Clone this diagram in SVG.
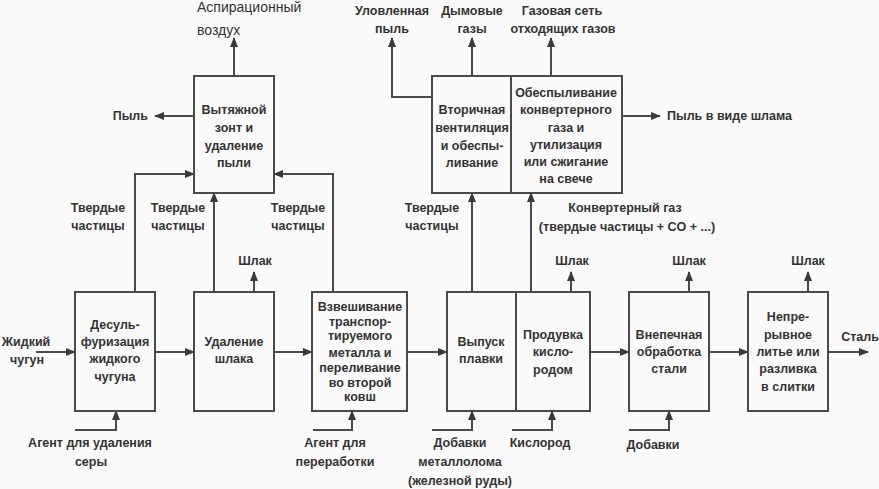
<svg xmlns="http://www.w3.org/2000/svg" width="879" height="489" viewBox="0 0 879 489">
<defs>
<marker id="ah" markerUnits="userSpaceOnUse" markerWidth="10" markerHeight="8" refX="9" refY="4" orient="auto">
<path d="M0,0 L10,4 L0,8 Z" fill="#3a3a3a"/>
</marker>
<style>
.bx{fill:#fafafa;stroke:#4a4a4a;stroke-width:2}
.t{font-family:"Liberation Sans",Arial,sans-serif;font-weight:bold;font-size:12.5px;fill:#333;text-anchor:middle}
.r{font-family:"Liberation Sans",Arial,sans-serif;font-size:14px;fill:#333}
.c{fill:none;stroke:#4a4a4a;stroke-width:2}
.a{marker-end:url(#ah)}
</style>
</defs>
<rect width="879" height="489" fill="#fafafa"/>

<g id="connectors">
<path class="c a" d="M36,352 H75"/>
<path class="c a" d="M155,352 H194"/>
<path class="c a" d="M274,352 H312"/>
<path class="c a" d="M407,352 H447"/>
<path class="c a" d="M590,352 H629"/>
<path class="c a" d="M709,352 H748"/>
<path class="c a" d="M828,352 H868"/>
<path class="c a" d="M75,430 H116 V411"/>
<path class="c a" d="M313,430 H352 V411"/>
<path class="c a" d="M432,430 H472 V411"/>
<path class="c a" d="M512,430 H552 V411"/>
<path class="c a" d="M629,430 H669 V411"/>
<path class="c a" d="M254,292 V272"/>
<path class="c a" d="M571,292 V272"/>
<path class="c a" d="M689,292 V272"/>
<path class="c a" d="M808,292 V272"/>
<path class="c a" d="M135,292 V174 H194"/>
<path class="c a" d="M214,292 V193"/>
<path class="c a" d="M333,292 V174 H274"/>
<path class="c a" d="M472,292 V193"/>
<path class="c a" d="M531,292 V193"/>
<path class="c a" d="M234,76 V38"/>
<path class="c a" d="M472,76 V38"/>
<path class="c a" d="M551,76 V38"/>
<path class="c a" d="M432,97 H392 V38"/>
<path class="c a" d="M194,116 H155"/>
<path class="c a" d="M622,116 H660"/>
</g>

<g id="labels">
<text class="r" x="197" y="12">Аспирационный</text>
<text class="r" x="197" y="35">воздух</text>
<text class="t" x="392" y="15">Уловленная</text>
<text class="t" x="392" y="33">пыль</text>
<text class="t" x="472" y="15">Дымовые</text>
<text class="t" x="472" y="33">газы</text>
<text class="t" x="562" y="15">Газовая сеть</text>
<text class="t" x="563" y="33">отходящих газов</text>
<text class="t" x="148" y="120" style="text-anchor:end">Пыль</text>
<text class="t" x="667" y="120" style="text-anchor:start">Пыль в виде шлама</text>
<text class="t" x="98" y="212">Твердые</text>
<text class="t" x="98" y="230">частицы</text>
<text class="t" x="178" y="212">Твердые</text>
<text class="t" x="178" y="230">частицы</text>
<text class="t" x="298" y="212">Твердые</text>
<text class="t" x="298" y="230">частицы</text>
<text class="t" x="432" y="212">Твердые</text>
<text class="t" x="432" y="230">частицы</text>
<text class="t" x="625" y="212">Конвертерный газ</text>
<text class="t" x="627" y="231">(твердые частицы + CO + ...)</text>
<text class="t" x="255" y="265">Шлак</text>
<text class="t" x="572" y="265">Шлак</text>
<text class="t" x="689" y="265">Шлак</text>
<text class="t" x="808" y="265">Шлак</text>
<text class="t" x="26" y="346">Жидкий</text>
<text class="t" x="27" y="364">чугун</text>
<text class="t" x="860" y="341">Сталь</text>
<text class="t" x="90" y="447">Агент для удаления</text>
<text class="t" x="91" y="466">серы</text>
<text class="t" x="335" y="447">Агент для</text>
<text class="t" x="335" y="466">переработки</text>
<text class="t" x="460" y="447">Добавки</text>
<text class="t" x="460" y="466">металлолома</text>
<text class="t" x="460" y="485">(железной руды)</text>
<text class="t" x="540" y="447">Кислород</text>
<text class="t" x="653" y="449">Добавки</text>
</g>

<g id="n-hood">
<rect class="bx" x="194" y="76" width="80" height="117"/>
<text class="t" x="234" y="114">Вытяжной</text>
<text class="t" x="234" y="132">зонт и</text>
<text class="t" x="234" y="150">удаление</text>
<text class="t" x="234" y="167">пыли</text>
</g>

<g id="n-secondary">
<rect class="bx" x="432" y="76" width="79" height="117"/>
<text class="t" x="472" y="114">Вторичная</text>
<text class="t" x="472" y="132">вентиляция</text>
<text class="t" x="472" y="150">и обеспы-</text>
<text class="t" x="472" y="167">ливание</text>
</g>

<g id="n-gascleaning">
<rect class="bx" x="511" y="76" width="111" height="117"/>
<text class="t" x="566" y="97">Обеспыливание</text>
<text class="t" x="566" y="114">конвертерного</text>
<text class="t" x="566" y="132">газа и</text>
<text class="t" x="566" y="149">утилизация</text>
<text class="t" x="566" y="166">или сжигание</text>
<text class="t" x="566" y="183">на свече</text>
</g>

<g id="n-desulf">
<rect class="bx" x="75" y="292" width="80" height="119"/>
<text class="t" x="115" y="329">Десуль-</text>
<text class="t" x="115" y="346">фуризация</text>
<text class="t" x="115" y="363">жидкого</text>
<text class="t" x="115" y="381">чугуна</text>
</g>

<g id="n-slag">
<rect class="bx" x="194" y="292" width="80" height="119"/>
<text class="t" x="234" y="346">Удаление</text>
<text class="t" x="234" y="363">шлака</text>
</g>

<g id="n-weigh">
<rect class="bx" x="312" y="292" width="95" height="119"/>
<text class="t" x="360" y="311">Взвешивание</text>
<text class="t" x="360" y="326">транспор-</text>
<text class="t" x="360" y="340">тируемого</text>
<text class="t" x="360" y="357">металла и</text>
<text class="t" x="360" y="372">переливание</text>
<text class="t" x="360" y="387">во второй</text>
<text class="t" x="360" y="401">ковш</text>
</g>

<g id="n-tap">
<rect class="bx" x="447" y="292" width="69" height="119"/>
<text class="t" x="481" y="346">Выпуск</text>
<text class="t" x="481" y="363">плавки</text>
</g>

<g id="n-blow">
<rect class="bx" x="516" y="292" width="74" height="119"/>
<text class="t" x="553" y="339">Продувка</text>
<text class="t" x="553" y="356">кисло-</text>
<text class="t" x="553" y="374">родом</text>
</g>

<g id="n-ladle">
<rect class="bx" x="629" y="292" width="80" height="119"/>
<text class="t" x="669" y="339">Внепечная</text>
<text class="t" x="669" y="356">обработка</text>
<text class="t" x="669" y="373">стали</text>
</g>

<g id="n-casting">
<rect class="bx" x="748" y="292" width="80" height="119"/>
<text class="t" x="788" y="321">Непре-</text>
<text class="t" x="788" y="339">рывное</text>
<text class="t" x="788" y="356">литье или</text>
<text class="t" x="788" y="373">разливка</text>
<text class="t" x="788" y="391">в слитки</text>
</g>
</svg>
